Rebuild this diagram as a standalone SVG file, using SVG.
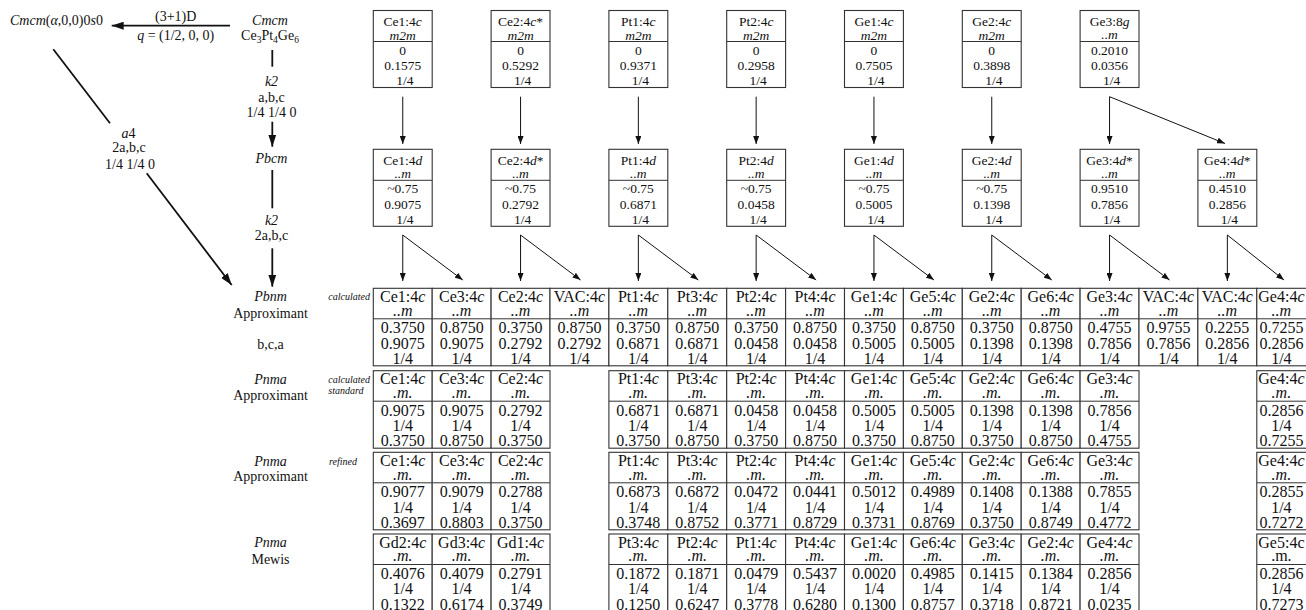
<svg xmlns="http://www.w3.org/2000/svg" xmlns:xlink="http://www.w3.org/1999/xlink" width="1306" height="610" viewBox="0 0 1306 610">
<style>
.t{font-family:"Liberation Serif","Times New Roman",serif;fill:#111;text-anchor:middle}
.b{font-size:13.5px}
.tb{font-size:16px}
.lb{font-size:14px}
.i{font-style:italic}
.sm{font-family:"Liberation Serif","Times New Roman",serif;font-size:10px;font-style:italic;fill:#111}
.frame{fill:#fff;stroke:#333;stroke-width:1.1}
.dv{stroke:#333;stroke-width:1}
.con{stroke:#111;stroke-width:1;fill:none}
.conL{stroke:#111;stroke-width:1.8;fill:none}
</style>
<defs>
<marker id="ahS" markerUnits="userSpaceOnUse" markerWidth="8" markerHeight="6" refX="8" refY="3" orient="auto"><path d="M0,0 L8,3 L0,6 z" fill="#111"/></marker>
<marker id="ahL" markerUnits="userSpaceOnUse" markerWidth="12" markerHeight="8" refX="12" refY="4" orient="auto"><path d="M0,0 L12,4 L0,8 z" fill="#111"/></marker>
<g id="fb"><rect class="frame" x="0" y="0" width="58.9" height="77"/><line class="dv" x1="0" y1="31" x2="58.9" y2="31"/></g>
<g id="ft"><rect class="frame" x="0" y="0" width="58.9" height="77.5"/><line class="dv" x1="0" y1="30.5" x2="58.9" y2="30.5"/></g>
</defs>
<rect width="1306" height="610" fill="#fff"/>

<!-- left labels -->
<g id="labels">
<text class="t lb" x="10" y="24.5" style="text-anchor:start"><tspan class="i">Cmcm</tspan>(<tspan class="i">α</tspan>,0,0)0<tspan class="i">s</tspan>0</text>
<text class="t lb" x="175.7" y="20.5">(3+1)D</text>
<text class="t lb" x="175.7" y="40.3"><tspan class="i">q</tspan> = (1/2, 0, 0)</text>
<text class="t lb i" x="270" y="24.5">Cmcm</text>
<text class="t lb" x="270" y="40">Ce<tspan font-size="9.5" dy="3">3</tspan><tspan dy="-3">Pt</tspan><tspan font-size="9.5" dy="3">4</tspan><tspan dy="-3">Ge</tspan><tspan font-size="9.5" dy="3">6</tspan></text>
<text class="t lb i" x="271.5" y="85.5">k2</text>
<text class="t lb" x="271.5" y="101.5">a,b,c</text>
<text class="t lb" x="271.5" y="117">1/4 1/4 0</text>
<text class="t lb i" x="271.5" y="163">Pbcm</text>
<text class="t lb i" x="271.5" y="224.5">k2</text>
<text class="t lb" x="271.5" y="240">2a,b,c</text>
<text class="t lb" x="128.5" y="138"><tspan class="i">a</tspan>4</text>
<text class="t lb" x="129" y="152">2a,b,c</text>
<text class="t lb" x="130" y="168.5">1/4 1/4 0</text>
<text class="t lb i" x="270.5" y="301.2">Pbnm</text>
<text class="t lb" x="270.5" y="317.5">Approximant</text>
<text class="t lb" x="270.5" y="349">b,c,a</text>
<text class="t lb i" x="270.5" y="384">Pnma</text>
<text class="t lb" x="270.5" y="399.5">Approximant</text>
<text class="t lb i" x="270.5" y="465.7">Pnma</text>
<text class="t lb" x="270.5" y="481">Approximant</text>
<text class="t lb i" x="270.5" y="547.3">Pnma</text>
<text class="t lb" x="270.5" y="563.5">Mewis</text>
<text class="sm" x="328.3" y="300">calculated</text>
<text class="sm" x="328.3" y="382.5">calculated</text>
<text class="sm" x="328.3" y="393.5">standard</text>
<text class="sm" x="329" y="465">refined</text>
</g>

<!-- connectors -->
<g id="connectors">
<line class="conL" x1="230" y1="25.7" x2="111.7" y2="25.7" marker-end="url(#ahL)"/>
<line class="conL" x1="272.3" y1="50" x2="272.3" y2="66.7"/>
<line class="conL" x1="272.3" y1="121.7" x2="272.3" y2="146.7" marker-end="url(#ahL)"/>
<line class="conL" x1="272.3" y1="170" x2="272.3" y2="208.3"/>
<line class="conL" x1="272.3" y1="248.3" x2="272.3" y2="286.7" marker-end="url(#ahL)"/>
<line class="conL" x1="53.3" y1="49.3" x2="110" y2="123.3"/>
<line class="conL" x1="146.7" y1="173.3" x2="231.7" y2="285" marker-end="url(#ahL)"/>

<line class="con" x1="402.75" y1="96.7" x2="402.75" y2="144" marker-end="url(#ahS)"/>
<line class="con" x1="520.55" y1="96.7" x2="520.55" y2="144" marker-end="url(#ahS)"/>
<line class="con" x1="638.35" y1="96.7" x2="638.35" y2="144" marker-end="url(#ahS)"/>
<line class="con" x1="756.15" y1="96.7" x2="756.15" y2="144" marker-end="url(#ahS)"/>
<line class="con" x1="873.95" y1="96.7" x2="873.95" y2="144" marker-end="url(#ahS)"/>
<line class="con" x1="991.75" y1="96.7" x2="991.75" y2="144" marker-end="url(#ahS)"/>
<line class="con" x1="1109.55" y1="96.7" x2="1109.55" y2="144" marker-end="url(#ahS)"/>
<line class="con" x1="1109.55" y1="96.7" x2="1225" y2="143.5" marker-end="url(#ahS)"/>

<line class="con" x1="402.75" y1="235" x2="402.75" y2="281" marker-end="url(#ahS)"/>
<line class="con" x1="402.75" y1="235" x2="462.75" y2="280" marker-end="url(#ahS)"/>
<line class="con" x1="520.55" y1="235" x2="520.55" y2="281" marker-end="url(#ahS)"/>
<line class="con" x1="520.55" y1="235" x2="580.55" y2="280" marker-end="url(#ahS)"/>
<line class="con" x1="638.35" y1="235" x2="638.35" y2="281" marker-end="url(#ahS)"/>
<line class="con" x1="638.35" y1="235" x2="698.35" y2="280" marker-end="url(#ahS)"/>
<line class="con" x1="756.15" y1="235" x2="756.15" y2="281" marker-end="url(#ahS)"/>
<line class="con" x1="756.15" y1="235" x2="816.15" y2="280" marker-end="url(#ahS)"/>
<line class="con" x1="873.95" y1="235" x2="873.95" y2="281" marker-end="url(#ahS)"/>
<line class="con" x1="873.95" y1="235" x2="933.95" y2="280" marker-end="url(#ahS)"/>
<line class="con" x1="991.75" y1="235" x2="991.75" y2="281" marker-end="url(#ahS)"/>
<line class="con" x1="991.75" y1="235" x2="1051.75" y2="280" marker-end="url(#ahS)"/>
<line class="con" x1="1109.55" y1="235" x2="1109.55" y2="281" marker-end="url(#ahS)"/>
<line class="con" x1="1109.55" y1="235" x2="1169.55" y2="280" marker-end="url(#ahS)"/>
<line class="con" x1="1227.35" y1="235" x2="1227.35" y2="281" marker-end="url(#ahS)"/>
<line class="con" x1="1227.35" y1="235" x2="1284" y2="280" marker-end="url(#ahS)"/>
</g>

<!-- Cmcm row -->
<g id="cmcm-Ce1" transform="translate(373.3,10.5)"><use href="#fb"/><text class="t b" x="29.45" y="15.7">Ce1:4<tspan class="i">c</tspan></text><text class="t b i" x="29.45" y="29.2">m2m</text><text class="t b" x="29.45" y="44">0</text><text class="t b" x="29.45" y="59.7">0.1575</text><text class="t b" x="31.5" y="74.7">1/4</text></g>
<g id="cmcm-Ce2" transform="translate(491.1,10.5)"><use href="#fb"/><text class="t b" x="29.45" y="15.7">Ce2:4<tspan class="i">c</tspan>*</text><text class="t b i" x="29.45" y="29.2">m2m</text><text class="t b" x="29.45" y="44">0</text><text class="t b" x="29.45" y="59.7">0.5292</text><text class="t b" x="31.5" y="74.7">1/4</text></g>
<g id="cmcm-Pt1" transform="translate(608.9,10.5)"><use href="#fb"/><text class="t b" x="29.45" y="15.7">Pt1:4<tspan class="i">c</tspan></text><text class="t b i" x="29.45" y="29.2">m2m</text><text class="t b" x="29.45" y="44">0</text><text class="t b" x="29.45" y="59.7">0.9371</text><text class="t b" x="31.5" y="74.7">1/4</text></g>
<g id="cmcm-Pt2" transform="translate(726.7,10.5)"><use href="#fb"/><text class="t b" x="29.45" y="15.7">Pt2:4<tspan class="i">c</tspan></text><text class="t b i" x="29.45" y="29.2">m2m</text><text class="t b" x="29.45" y="44">0</text><text class="t b" x="29.45" y="59.7">0.2958</text><text class="t b" x="31.5" y="74.7">1/4</text></g>
<g id="cmcm-Ge1" transform="translate(844.5,10.5)"><use href="#fb"/><text class="t b" x="29.45" y="15.7">Ge1:4<tspan class="i">c</tspan></text><text class="t b i" x="29.45" y="29.2">m2m</text><text class="t b" x="29.45" y="44">0</text><text class="t b" x="29.45" y="59.7">0.7505</text><text class="t b" x="31.5" y="74.7">1/4</text></g>
<g id="cmcm-Ge2" transform="translate(962.3,10.5)"><use href="#fb"/><text class="t b" x="29.45" y="15.7">Ge2:4<tspan class="i">c</tspan></text><text class="t b i" x="29.45" y="29.2">m2m</text><text class="t b" x="29.45" y="44">0</text><text class="t b" x="29.45" y="59.7">0.3898</text><text class="t b" x="31.5" y="74.7">1/4</text></g>
<g id="cmcm-Ge3" transform="translate(1080.1,10.5)"><use href="#fb"/><text class="t b" x="29.45" y="15.7">Ge3:8<tspan class="i">g</tspan></text><text class="t b i" x="29.45" y="28.5">..m</text><text class="t b" x="29.45" y="44">0.2010</text><text class="t b" x="29.45" y="59.7">0.0356</text><text class="t b" x="31.5" y="74.7">1/4</text></g>

<!-- Pbcm row -->
<g id="pbcm-Ce1" transform="translate(373.3,149.3)"><use href="#fb"/><text class="t b" x="29.45" y="15.7">Ce1:4<tspan class="i">d</tspan></text><text class="t b i" x="29.45" y="28.5">..m</text><text class="t b" x="29.45" y="44">~0.75</text><text class="t b" x="29.45" y="59.7">0.9075</text><text class="t b" x="31.5" y="74.7">1/4</text></g>
<g id="pbcm-Ce2" transform="translate(491.1,149.3)"><use href="#fb"/><text class="t b" x="29.45" y="15.7">Ce2:4<tspan class="i">d</tspan>*</text><text class="t b i" x="29.45" y="28.5">..m</text><text class="t b" x="29.45" y="44">~0.75</text><text class="t b" x="29.45" y="59.7">0.2792</text><text class="t b" x="31.5" y="74.7">1/4</text></g>
<g id="pbcm-Pt1" transform="translate(608.9,149.3)"><use href="#fb"/><text class="t b" x="29.45" y="15.7">Pt1:4<tspan class="i">d</tspan></text><text class="t b i" x="29.45" y="28.5">..m</text><text class="t b" x="29.45" y="44">~0.75</text><text class="t b" x="29.45" y="59.7">0.6871</text><text class="t b" x="31.5" y="74.7">1/4</text></g>
<g id="pbcm-Pt2" transform="translate(726.7,149.3)"><use href="#fb"/><text class="t b" x="29.45" y="15.7">Pt2:4<tspan class="i">d</tspan></text><text class="t b i" x="29.45" y="28.5">..m</text><text class="t b" x="29.45" y="44">~0.75</text><text class="t b" x="29.45" y="59.7">0.0458</text><text class="t b" x="31.5" y="74.7">1/4</text></g>
<g id="pbcm-Ge1" transform="translate(844.5,149.3)"><use href="#fb"/><text class="t b" x="29.45" y="15.7">Ge1:4<tspan class="i">d</tspan></text><text class="t b i" x="29.45" y="28.5">..m</text><text class="t b" x="29.45" y="44">~0.75</text><text class="t b" x="29.45" y="59.7">0.5005</text><text class="t b" x="31.5" y="74.7">1/4</text></g>
<g id="pbcm-Ge2" transform="translate(962.3,149.3)"><use href="#fb"/><text class="t b" x="29.45" y="15.7">Ge2:4<tspan class="i">d</tspan></text><text class="t b i" x="29.45" y="28.5">..m</text><text class="t b" x="29.45" y="44">~0.75</text><text class="t b" x="29.45" y="59.7">0.1398</text><text class="t b" x="31.5" y="74.7">1/4</text></g>
<g id="pbcm-Ge3" transform="translate(1080.1,149.3)"><use href="#fb"/><text class="t b" x="29.45" y="15.7">Ge3:4<tspan class="i">d</tspan>*</text><text class="t b i" x="29.45" y="28.5">..m</text><text class="t b" x="29.45" y="44">0.9510</text><text class="t b" x="29.45" y="59.7">0.7856</text><text class="t b" x="31.5" y="74.7">1/4</text></g>
<g id="pbcm-Ge4" transform="translate(1197.9,149.3)"><use href="#fb"/><text class="t b" x="29.45" y="15.7">Ge4:4<tspan class="i">d</tspan>*</text><text class="t b i" x="29.45" y="28.5">..m</text><text class="t b" x="29.45" y="44">0.4510</text><text class="t b" x="29.45" y="59.7">0.2856</text><text class="t b" x="31.5" y="74.7">1/4</text></g>

<!-- Pbnm table -->
<g id="pbnm-Ce1" transform="translate(373.3,288.3)"><use href="#ft"/><text class="t tb" x="29.45" y="13.7">Ce1:4<tspan class="i">c</tspan></text><text class="t tb i" x="29.45" y="27.3">..m</text><text class="t tb" x="29.45" y="45">0.3750</text><text class="t tb" x="29.45" y="60.3">0.9075</text><text class="t tb" x="29.45" y="75.5">1/4</text></g>
<g id="pbnm-Ce3" transform="translate(432.2,288.3)"><use href="#ft"/><text class="t tb" x="29.45" y="13.7">Ce3:4<tspan class="i">c</tspan></text><text class="t tb i" x="29.45" y="27.3">..m</text><text class="t tb" x="29.45" y="45">0.8750</text><text class="t tb" x="29.45" y="60.3">0.9075</text><text class="t tb" x="29.45" y="75.5">1/4</text></g>
<g id="pbnm-Ce2" transform="translate(491.1,288.3)"><use href="#ft"/><text class="t tb" x="29.45" y="13.7">Ce2:4<tspan class="i">c</tspan></text><text class="t tb i" x="29.45" y="27.3">..m</text><text class="t tb" x="29.45" y="45">0.3750</text><text class="t tb" x="29.45" y="60.3">0.2792</text><text class="t tb" x="29.45" y="75.5">1/4</text></g>
<g id="pbnm-VAC1" transform="translate(550,288.3)"><use href="#ft"/><text class="t tb" x="29.45" y="13.7">VAC:4<tspan class="i">c</tspan></text><text class="t tb i" x="29.45" y="27.3">..m</text><text class="t tb" x="29.45" y="45">0.8750</text><text class="t tb" x="29.45" y="60.3">0.2792</text><text class="t tb" x="29.45" y="75.5">1/4</text></g>
<g id="pbnm-Pt1" transform="translate(608.9,288.3)"><use href="#ft"/><text class="t tb" x="29.45" y="13.7">Pt1:4<tspan class="i">c</tspan></text><text class="t tb i" x="29.45" y="27.3">..m</text><text class="t tb" x="29.45" y="45">0.3750</text><text class="t tb" x="29.45" y="60.3">0.6871</text><text class="t tb" x="29.45" y="75.5">1/4</text></g>
<g id="pbnm-Pt3" transform="translate(667.8,288.3)"><use href="#ft"/><text class="t tb" x="29.45" y="13.7">Pt3:4<tspan class="i">c</tspan></text><text class="t tb i" x="29.45" y="27.3">..m</text><text class="t tb" x="29.45" y="45">0.8750</text><text class="t tb" x="29.45" y="60.3">0.6871</text><text class="t tb" x="29.45" y="75.5">1/4</text></g>
<g id="pbnm-Pt2" transform="translate(726.7,288.3)"><use href="#ft"/><text class="t tb" x="29.45" y="13.7">Pt2:4<tspan class="i">c</tspan></text><text class="t tb i" x="29.45" y="27.3">..m</text><text class="t tb" x="29.45" y="45">0.3750</text><text class="t tb" x="29.45" y="60.3">0.0458</text><text class="t tb" x="29.45" y="75.5">1/4</text></g>
<g id="pbnm-Pt4" transform="translate(785.6,288.3)"><use href="#ft"/><text class="t tb" x="29.45" y="13.7">Pt4:4<tspan class="i">c</tspan></text><text class="t tb i" x="29.45" y="27.3">..m</text><text class="t tb" x="29.45" y="45">0.8750</text><text class="t tb" x="29.45" y="60.3">0.0458</text><text class="t tb" x="29.45" y="75.5">1/4</text></g>
<g id="pbnm-Ge1" transform="translate(844.5,288.3)"><use href="#ft"/><text class="t tb" x="29.45" y="13.7">Ge1:4<tspan class="i">c</tspan></text><text class="t tb i" x="29.45" y="27.3">..m</text><text class="t tb" x="29.45" y="45">0.3750</text><text class="t tb" x="29.45" y="60.3">0.5005</text><text class="t tb" x="29.45" y="75.5">1/4</text></g>
<g id="pbnm-Ge5" transform="translate(903.4,288.3)"><use href="#ft"/><text class="t tb" x="29.45" y="13.7">Ge5:4<tspan class="i">c</tspan></text><text class="t tb i" x="29.45" y="27.3">..m</text><text class="t tb" x="29.45" y="45">0.8750</text><text class="t tb" x="29.45" y="60.3">0.5005</text><text class="t tb" x="29.45" y="75.5">1/4</text></g>
<g id="pbnm-Ge2" transform="translate(962.3,288.3)"><use href="#ft"/><text class="t tb" x="29.45" y="13.7">Ge2:4<tspan class="i">c</tspan></text><text class="t tb i" x="29.45" y="27.3">..m</text><text class="t tb" x="29.45" y="45">0.3750</text><text class="t tb" x="29.45" y="60.3">0.1398</text><text class="t tb" x="29.45" y="75.5">1/4</text></g>
<g id="pbnm-Ge6" transform="translate(1021.2,288.3)"><use href="#ft"/><text class="t tb" x="29.45" y="13.7">Ge6:4<tspan class="i">c</tspan></text><text class="t tb i" x="29.45" y="27.3">..m</text><text class="t tb" x="29.45" y="45">0.8750</text><text class="t tb" x="29.45" y="60.3">0.1398</text><text class="t tb" x="29.45" y="75.5">1/4</text></g>
<g id="pbnm-Ge3" transform="translate(1080.1,288.3)"><use href="#ft"/><text class="t tb" x="29.45" y="13.7">Ge3:4<tspan class="i">c</tspan></text><text class="t tb i" x="29.45" y="27.3">..m</text><text class="t tb" x="29.45" y="45">0.4755</text><text class="t tb" x="29.45" y="60.3">0.7856</text><text class="t tb" x="29.45" y="75.5">1/4</text></g>
<g id="pbnm-VAC2" transform="translate(1139,288.3)"><use href="#ft"/><text class="t tb" x="29.45" y="13.7">VAC:4<tspan class="i">c</tspan></text><text class="t tb i" x="29.45" y="27.3">..m</text><text class="t tb" x="29.45" y="45">0.9755</text><text class="t tb" x="29.45" y="60.3">0.7856</text><text class="t tb" x="29.45" y="75.5">1/4</text></g>
<g id="pbnm-VAC3" transform="translate(1197.9,288.3)"><use href="#ft"/><text class="t tb" x="29.45" y="13.7">VAC:4<tspan class="i">c</tspan></text><text class="t tb i" x="29.45" y="27.3">..m</text><text class="t tb" x="29.45" y="45">0.2255</text><text class="t tb" x="29.45" y="60.3">0.2856</text><text class="t tb" x="29.45" y="75.5">1/4</text></g>
<g id="pbnm-Ge4" transform="translate(1256.8,288.3)"><use href="#ft"/><text class="t tb" x="24.6" y="13.7">Ge4:4<tspan class="i">c</tspan></text><text class="t tb i" x="24.6" y="27.3">..m</text><text class="t tb" x="24.6" y="45">0.7255</text><text class="t tb" x="24.6" y="60.3">0.2856</text><text class="t tb" x="24.6" y="75.5">1/4</text></g>

<!-- Pnma calculated standard -->
<g id="std-Ce1" transform="translate(373.3,370.7)"><use href="#ft"/><text class="t tb" x="29.45" y="13.7">Ce1:4<tspan class="i">c</tspan></text><text class="t tb i" x="29.45" y="27.3">.m.</text><text class="t tb" x="29.45" y="45">0.9075</text><text class="t tb" x="29.45" y="60.3">1/4</text><text class="t tb" x="29.45" y="75.5">0.3750</text></g>
<g id="std-Ce3" transform="translate(432.2,370.7)"><use href="#ft"/><text class="t tb" x="29.45" y="13.7">Ce3:4<tspan class="i">c</tspan></text><text class="t tb i" x="29.45" y="27.3">.m.</text><text class="t tb" x="29.45" y="45">0.9075</text><text class="t tb" x="29.45" y="60.3">1/4</text><text class="t tb" x="29.45" y="75.5">0.8750</text></g>
<g id="std-Ce2" transform="translate(491.1,370.7)"><use href="#ft"/><text class="t tb" x="29.45" y="13.7">Ce2:4<tspan class="i">c</tspan></text><text class="t tb i" x="29.45" y="27.3">.m.</text><text class="t tb" x="29.45" y="45">0.2792</text><text class="t tb" x="29.45" y="60.3">1/4</text><text class="t tb" x="29.45" y="75.5">0.3750</text></g>
<g id="std-Pt1" transform="translate(608.9,370.7)"><use href="#ft"/><text class="t tb" x="29.45" y="13.7">Pt1:4<tspan class="i">c</tspan></text><text class="t tb i" x="29.45" y="27.3">.m.</text><text class="t tb" x="29.45" y="45">0.6871</text><text class="t tb" x="29.45" y="60.3">1/4</text><text class="t tb" x="29.45" y="75.5">0.3750</text></g>
<g id="std-Pt3" transform="translate(667.8,370.7)"><use href="#ft"/><text class="t tb" x="29.45" y="13.7">Pt3:4<tspan class="i">c</tspan></text><text class="t tb i" x="29.45" y="27.3">.m.</text><text class="t tb" x="29.45" y="45">0.6871</text><text class="t tb" x="29.45" y="60.3">1/4</text><text class="t tb" x="29.45" y="75.5">0.8750</text></g>
<g id="std-Pt2" transform="translate(726.7,370.7)"><use href="#ft"/><text class="t tb" x="29.45" y="13.7">Pt2:4<tspan class="i">c</tspan></text><text class="t tb i" x="29.45" y="27.3">.m.</text><text class="t tb" x="29.45" y="45">0.0458</text><text class="t tb" x="29.45" y="60.3">1/4</text><text class="t tb" x="29.45" y="75.5">0.3750</text></g>
<g id="std-Pt4" transform="translate(785.6,370.7)"><use href="#ft"/><text class="t tb" x="29.45" y="13.7">Pt4:4<tspan class="i">c</tspan></text><text class="t tb i" x="29.45" y="27.3">.m.</text><text class="t tb" x="29.45" y="45">0.0458</text><text class="t tb" x="29.45" y="60.3">1/4</text><text class="t tb" x="29.45" y="75.5">0.8750</text></g>
<g id="std-Ge1" transform="translate(844.5,370.7)"><use href="#ft"/><text class="t tb" x="29.45" y="13.7">Ge1:4<tspan class="i">c</tspan></text><text class="t tb i" x="29.45" y="27.3">.m.</text><text class="t tb" x="29.45" y="45">0.5005</text><text class="t tb" x="29.45" y="60.3">1/4</text><text class="t tb" x="29.45" y="75.5">0.3750</text></g>
<g id="std-Ge5" transform="translate(903.4,370.7)"><use href="#ft"/><text class="t tb" x="29.45" y="13.7">Ge5:4<tspan class="i">c</tspan></text><text class="t tb i" x="29.45" y="27.3">.m.</text><text class="t tb" x="29.45" y="45">0.5005</text><text class="t tb" x="29.45" y="60.3">1/4</text><text class="t tb" x="29.45" y="75.5">0.8750</text></g>
<g id="std-Ge2" transform="translate(962.3,370.7)"><use href="#ft"/><text class="t tb" x="29.45" y="13.7">Ge2:4<tspan class="i">c</tspan></text><text class="t tb i" x="29.45" y="27.3">.m.</text><text class="t tb" x="29.45" y="45">0.1398</text><text class="t tb" x="29.45" y="60.3">1/4</text><text class="t tb" x="29.45" y="75.5">0.3750</text></g>
<g id="std-Ge6" transform="translate(1021.2,370.7)"><use href="#ft"/><text class="t tb" x="29.45" y="13.7">Ge6:4<tspan class="i">c</tspan></text><text class="t tb i" x="29.45" y="27.3">.m.</text><text class="t tb" x="29.45" y="45">0.1398</text><text class="t tb" x="29.45" y="60.3">1/4</text><text class="t tb" x="29.45" y="75.5">0.8750</text></g>
<g id="std-Ge3" transform="translate(1080.1,370.7)"><use href="#ft"/><text class="t tb" x="29.45" y="13.7">Ge3:4<tspan class="i">c</tspan></text><text class="t tb i" x="29.45" y="27.3">.m.</text><text class="t tb" x="29.45" y="45">0.7856</text><text class="t tb" x="29.45" y="60.3">1/4</text><text class="t tb" x="29.45" y="75.5">0.4755</text></g>
<g id="std-Ge4" transform="translate(1256.8,370.7)"><use href="#ft"/><text class="t tb" x="24.6" y="13.7">Ge4:4<tspan class="i">c</tspan></text><text class="t tb i" x="24.6" y="27.3">.m.</text><text class="t tb" x="24.6" y="45">0.2856</text><text class="t tb" x="24.6" y="60.3">1/4</text><text class="t tb" x="24.6" y="75.5">0.7255</text></g>

<!-- Pnma refined -->
<g id="ref-Ce1" transform="translate(373.3,452.3)"><use href="#ft"/><text class="t tb" x="29.45" y="13.7">Ce1:4<tspan class="i">c</tspan></text><text class="t tb i" x="29.45" y="27.3">.m.</text><text class="t tb" x="29.45" y="45">0.9077</text><text class="t tb" x="29.45" y="60.3">1/4</text><text class="t tb" x="29.45" y="75.5">0.3697</text></g>
<g id="ref-Ce3" transform="translate(432.2,452.3)"><use href="#ft"/><text class="t tb" x="29.45" y="13.7">Ce3:4<tspan class="i">c</tspan></text><text class="t tb i" x="29.45" y="27.3">.m.</text><text class="t tb" x="29.45" y="45">0.9079</text><text class="t tb" x="29.45" y="60.3">1/4</text><text class="t tb" x="29.45" y="75.5">0.8803</text></g>
<g id="ref-Ce2" transform="translate(491.1,452.3)"><use href="#ft"/><text class="t tb" x="29.45" y="13.7">Ce2:4<tspan class="i">c</tspan></text><text class="t tb i" x="29.45" y="27.3">.m.</text><text class="t tb" x="29.45" y="45">0.2788</text><text class="t tb" x="29.45" y="60.3">1/4</text><text class="t tb" x="29.45" y="75.5">0.3750</text></g>
<g id="ref-Pt1" transform="translate(608.9,452.3)"><use href="#ft"/><text class="t tb" x="29.45" y="13.7">Pt1:4<tspan class="i">c</tspan></text><text class="t tb i" x="29.45" y="27.3">.m.</text><text class="t tb" x="29.45" y="45">0.6873</text><text class="t tb" x="29.45" y="60.3">1/4</text><text class="t tb" x="29.45" y="75.5">0.3748</text></g>
<g id="ref-Pt3" transform="translate(667.8,452.3)"><use href="#ft"/><text class="t tb" x="29.45" y="13.7">Pt3:4<tspan class="i">c</tspan></text><text class="t tb i" x="29.45" y="27.3">.m.</text><text class="t tb" x="29.45" y="45">0.6872</text><text class="t tb" x="29.45" y="60.3">1/4</text><text class="t tb" x="29.45" y="75.5">0.8752</text></g>
<g id="ref-Pt2" transform="translate(726.7,452.3)"><use href="#ft"/><text class="t tb" x="29.45" y="13.7">Pt2:4<tspan class="i">c</tspan></text><text class="t tb i" x="29.45" y="27.3">.m.</text><text class="t tb" x="29.45" y="45">0.0472</text><text class="t tb" x="29.45" y="60.3">1/4</text><text class="t tb" x="29.45" y="75.5">0.3771</text></g>
<g id="ref-Pt4" transform="translate(785.6,452.3)"><use href="#ft"/><text class="t tb" x="29.45" y="13.7">Pt4:4<tspan class="i">c</tspan></text><text class="t tb i" x="29.45" y="27.3">.m.</text><text class="t tb" x="29.45" y="45">0.0441</text><text class="t tb" x="29.45" y="60.3">1/4</text><text class="t tb" x="29.45" y="75.5">0.8729</text></g>
<g id="ref-Ge1" transform="translate(844.5,452.3)"><use href="#ft"/><text class="t tb" x="29.45" y="13.7">Ge1:4<tspan class="i">c</tspan></text><text class="t tb i" x="29.45" y="27.3">.m.</text><text class="t tb" x="29.45" y="45">0.5012</text><text class="t tb" x="29.45" y="60.3">1/4</text><text class="t tb" x="29.45" y="75.5">0.3731</text></g>
<g id="ref-Ge5" transform="translate(903.4,452.3)"><use href="#ft"/><text class="t tb" x="29.45" y="13.7">Ge5:4<tspan class="i">c</tspan></text><text class="t tb i" x="29.45" y="27.3">.m.</text><text class="t tb" x="29.45" y="45">0.4989</text><text class="t tb" x="29.45" y="60.3">1/4</text><text class="t tb" x="29.45" y="75.5">0.8769</text></g>
<g id="ref-Ge2" transform="translate(962.3,452.3)"><use href="#ft"/><text class="t tb" x="29.45" y="13.7">Ge2:4<tspan class="i">c</tspan></text><text class="t tb i" x="29.45" y="27.3">.m.</text><text class="t tb" x="29.45" y="45">0.1408</text><text class="t tb" x="29.45" y="60.3">1/4</text><text class="t tb" x="29.45" y="75.5">0.3750</text></g>
<g id="ref-Ge6" transform="translate(1021.2,452.3)"><use href="#ft"/><text class="t tb" x="29.45" y="13.7">Ge6:4<tspan class="i">c</tspan></text><text class="t tb i" x="29.45" y="27.3">.m.</text><text class="t tb" x="29.45" y="45">0.1388</text><text class="t tb" x="29.45" y="60.3">1/4</text><text class="t tb" x="29.45" y="75.5">0.8749</text></g>
<g id="ref-Ge3" transform="translate(1080.1,452.3)"><use href="#ft"/><text class="t tb" x="29.45" y="13.7">Ge3:4<tspan class="i">c</tspan></text><text class="t tb i" x="29.45" y="27.3">.m.</text><text class="t tb" x="29.45" y="45">0.7855</text><text class="t tb" x="29.45" y="60.3">1/4</text><text class="t tb" x="29.45" y="75.5">0.4772</text></g>
<g id="ref-Ge4" transform="translate(1256.8,452.3)"><use href="#ft"/><text class="t tb" x="24.6" y="13.7">Ge4:4<tspan class="i">c</tspan></text><text class="t tb i" x="24.6" y="27.3">.m.</text><text class="t tb" x="24.6" y="45">0.2855</text><text class="t tb" x="24.6" y="60.3">1/4</text><text class="t tb" x="24.6" y="75.5">0.7272</text></g>

<!-- Pnma Mewis -->
<g id="mew-Gd2" transform="translate(373.3,534)"><use href="#ft"/><text class="t tb" x="29.45" y="13.7">Gd2:4<tspan class="i">c</tspan></text><text class="t tb i" x="29.45" y="27.3">.m.</text><text class="t tb" x="29.45" y="45">0.4076</text><text class="t tb" x="29.45" y="60.3">1/4</text><text class="t tb" x="29.45" y="75.5">0.1322</text></g>
<g id="mew-Gd3" transform="translate(432.2,534)"><use href="#ft"/><text class="t tb" x="29.45" y="13.7">Gd3:4<tspan class="i">c</tspan></text><text class="t tb i" x="29.45" y="27.3">.m.</text><text class="t tb" x="29.45" y="45">0.4079</text><text class="t tb" x="29.45" y="60.3">1/4</text><text class="t tb" x="29.45" y="75.5">0.6174</text></g>
<g id="mew-Gd1" transform="translate(491.1,534)"><use href="#ft"/><text class="t tb" x="29.45" y="13.7">Gd1:4<tspan class="i">c</tspan></text><text class="t tb i" x="29.45" y="27.3">.m.</text><text class="t tb" x="29.45" y="45">0.2791</text><text class="t tb" x="29.45" y="60.3">1/4</text><text class="t tb" x="29.45" y="75.5">0.3749</text></g>
<g id="mew-Pt3" transform="translate(608.9,534)"><use href="#ft"/><text class="t tb" x="29.45" y="13.7">Pt3:4<tspan class="i">c</tspan></text><text class="t tb i" x="29.45" y="27.3">.m.</text><text class="t tb" x="29.45" y="45">0.1872</text><text class="t tb" x="29.45" y="60.3">1/4</text><text class="t tb" x="29.45" y="75.5">0.1250</text></g>
<g id="mew-Pt2" transform="translate(667.8,534)"><use href="#ft"/><text class="t tb" x="29.45" y="13.7">Pt2:4<tspan class="i">c</tspan></text><text class="t tb i" x="29.45" y="27.3">.m.</text><text class="t tb" x="29.45" y="45">0.1871</text><text class="t tb" x="29.45" y="60.3">1/4</text><text class="t tb" x="29.45" y="75.5">0.6247</text></g>
<g id="mew-Pt1" transform="translate(726.7,534)"><use href="#ft"/><text class="t tb" x="29.45" y="13.7">Pt1:4<tspan class="i">c</tspan></text><text class="t tb i" x="29.45" y="27.3">.m.</text><text class="t tb" x="29.45" y="45">0.0479</text><text class="t tb" x="29.45" y="60.3">1/4</text><text class="t tb" x="29.45" y="75.5">0.3778</text></g>
<g id="mew-Pt4" transform="translate(785.6,534)"><use href="#ft"/><text class="t tb" x="29.45" y="13.7">Pt4:4<tspan class="i">c</tspan></text><text class="t tb i" x="29.45" y="27.3">.m.</text><text class="t tb" x="29.45" y="45">0.5437</text><text class="t tb" x="29.45" y="60.3">1/4</text><text class="t tb" x="29.45" y="75.5">0.6280</text></g>
<g id="mew-Ge1" transform="translate(844.5,534)"><use href="#ft"/><text class="t tb" x="29.45" y="13.7">Ge1:4<tspan class="i">c</tspan></text><text class="t tb i" x="29.45" y="27.3">.m.</text><text class="t tb" x="29.45" y="45">0.0020</text><text class="t tb" x="29.45" y="60.3">1/4</text><text class="t tb" x="29.45" y="75.5">0.1300</text></g>
<g id="mew-Ge6" transform="translate(903.4,534)"><use href="#ft"/><text class="t tb" x="29.45" y="13.7">Ge6:4<tspan class="i">c</tspan></text><text class="t tb i" x="29.45" y="27.3">.m.</text><text class="t tb" x="29.45" y="45">0.4985</text><text class="t tb" x="29.45" y="60.3">1/4</text><text class="t tb" x="29.45" y="75.5">0.8757</text></g>
<g id="mew-Ge3" transform="translate(962.3,534)"><use href="#ft"/><text class="t tb" x="29.45" y="13.7">Ge3:4<tspan class="i">c</tspan></text><text class="t tb i" x="29.45" y="27.3">.m.</text><text class="t tb" x="29.45" y="45">0.1415</text><text class="t tb" x="29.45" y="60.3">1/4</text><text class="t tb" x="29.45" y="75.5">0.3718</text></g>
<g id="mew-Ge2" transform="translate(1021.2,534)"><use href="#ft"/><text class="t tb" x="29.45" y="13.7">Ge2:4<tspan class="i">c</tspan></text><text class="t tb i" x="29.45" y="27.3">.m.</text><text class="t tb" x="29.45" y="45">0.1384</text><text class="t tb" x="29.45" y="60.3">1/4</text><text class="t tb" x="29.45" y="75.5">0.8721</text></g>
<g id="mew-Ge4" transform="translate(1080.1,534)"><use href="#ft"/><text class="t tb" x="29.45" y="13.7">Ge4:4<tspan class="i">c</tspan></text><text class="t tb i" x="29.45" y="27.3">.m.</text><text class="t tb" x="29.45" y="45">0.2856</text><text class="t tb" x="29.45" y="60.3">1/4</text><text class="t tb" x="29.45" y="75.5">0.0235</text></g>
<g id="mew-Ge5" transform="translate(1256.8,534)"><use href="#ft"/><text class="t tb" x="24.6" y="13.7">Ge5:4c</text><text class="t tb" x="24.6" y="27.3">.m.</text><text class="t tb" x="24.6" y="45">0.2856</text><text class="t tb" x="24.6" y="60.3">1/4</text><text class="t tb" x="24.6" y="75.5">0.7273</text></g>
</svg>
